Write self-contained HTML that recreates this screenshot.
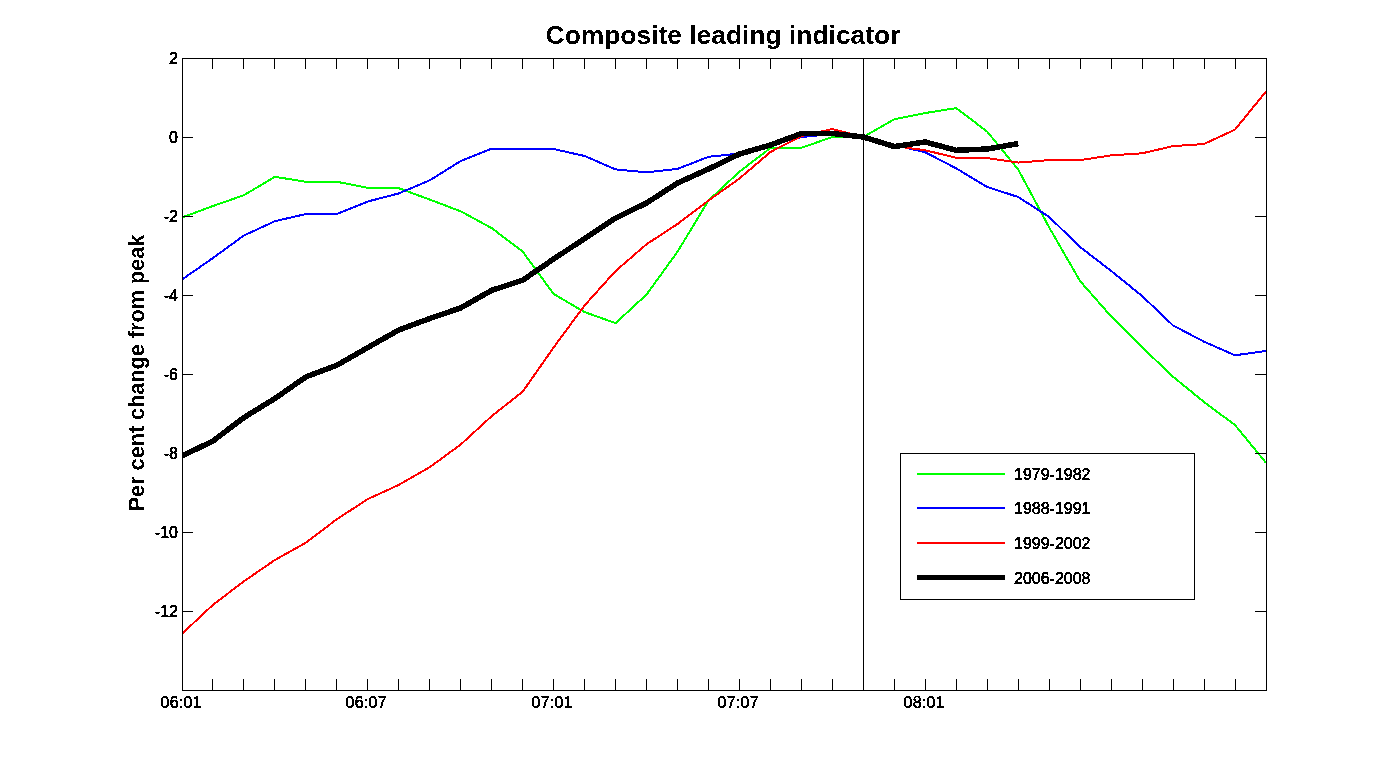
<!DOCTYPE html>
<html><head><meta charset="utf-8"><title>Composite leading indicator</title>
<style>
html,body{margin:0;padding:0;background:#fff;}
body{width:1399px;height:775px;overflow:hidden;}
svg{display:block;font-family:"Liberation Sans", sans-serif;}
</style></head><body>
<svg width="1399" height="775" viewBox="0 0 1399 775">
<rect x="0" y="0" width="1399" height="775" fill="#fff"/>

<defs><filter id="cr"><feComponentTransfer><feFuncA type="discrete" tableValues="0 1"/></feComponentTransfer></filter><clipPath id="ax"><rect x="182" y="58" width="1085" height="633"/></clipPath></defs>
<text x="723" y="44" text-anchor="middle" font-size="26.4" font-weight="bold" fill="#000" filter="url(#cr)">Composite leading indicator</text>
<text transform="translate(144,373) rotate(-90)" text-anchor="middle" font-size="21.65" font-weight="bold" fill="#000" filter="url(#cr)">Per cent change from peak</text>
<g clip-path="url(#ax)" fill="none" stroke-linejoin="round" stroke-linecap="butt" shape-rendering="crispEdges">
<polyline points="182.00,217.50 212.97,206.00 243.94,195.20 274.91,176.80 305.89,181.80 336.86,181.80 367.83,187.80 398.80,188.20 429.77,199.60 460.74,211.30 491.71,228.10 522.69,251.60 553.66,294.00 584.63,312.10 615.60,323.10 646.57,294.50 677.54,251.70 708.51,200.50 739.49,171.60 770.46,148.00 801.43,147.80 832.40,137.00 863.37,137.00 894.34,119.20 925.31,113.00 956.29,108.10 987.26,131.70 1018.23,169.50 1049.20,227.50 1080.17,281.20 1111.14,316.40 1142.11,347.20 1173.09,376.80 1204.06,402.00 1235.03,425.10 1266.00,462.80" stroke="#00ff00" stroke-width="2"/>
<polyline points="182.00,279.50 212.97,258.00 243.94,235.50 274.91,221.20 305.89,214.00 336.86,214.00 367.83,201.50 398.80,193.40 429.77,180.30 460.74,161.00 491.71,148.70 522.69,148.70 553.66,149.00 584.63,156.00 615.60,169.40 646.57,172.30 677.54,168.90 708.51,156.80 739.49,153.50 770.46,145.00 801.43,137.00 832.40,134.00 863.37,137.00 894.34,145.00 925.31,152.30 956.29,168.40 987.26,187.00 1018.23,197.00 1049.20,217.00 1080.17,247.10 1111.14,270.90 1142.11,296.00 1173.09,325.50 1204.06,341.70 1235.03,355.30 1266.00,350.90" stroke="#0000ff" stroke-width="2"/>
<polyline points="182.00,633.80 212.97,604.80 243.94,581.30 274.91,560.00 305.89,542.70 336.86,519.20 367.83,499.10 398.80,484.90 429.77,467.20 460.74,444.50 491.71,416.10 522.69,391.70 553.66,347.40 584.63,305.40 615.60,271.00 646.57,244.20 677.54,224.00 708.51,200.50 739.49,178.50 770.46,152.00 801.43,136.00 832.40,129.00 863.37,137.00 894.34,146.00 925.31,150.30 956.29,157.80 987.26,158.10 1018.23,162.60 1049.20,160.10 1080.17,160.10 1111.14,155.40 1142.11,153.30 1173.09,146.10 1204.06,144.00 1235.03,129.60 1266.00,91.50" stroke="#ff0000" stroke-width="2"/>
<polyline points="182.00,456.00 212.97,441.00 243.94,417.50 274.91,398.50 305.89,376.90 336.86,365.20 367.83,347.50 398.80,330.00 429.77,318.50 460.74,307.90 491.71,290.30 522.69,280.20 553.66,259.00 584.63,238.50 615.60,218.10 646.57,203.00 677.54,183.00 708.51,169.00 739.49,154.00 770.46,145.00 801.43,133.50 832.40,133.50 863.37,137.00 894.34,146.50 925.31,142.00 956.29,150.30 987.26,149.00 1018.23,143.60" stroke="#000" stroke-width="5.5"/>
</g>
<path d="M182.5,58V69M182.5,690V679M212.5,58V69M212.5,690V679M243.5,58V69M243.5,690V679M274.5,58V69M274.5,690V679M305.5,58V69M305.5,690V679M336.5,58V69M336.5,690V679M367.5,58V69M367.5,690V679M398.5,58V69M398.5,690V679M429.5,58V69M429.5,690V679M460.5,58V69M460.5,690V679M491.5,58V69M491.5,690V679M522.5,58V69M522.5,690V679M553.5,58V69M553.5,690V679M584.5,58V69M584.5,690V679M615.5,58V69M615.5,690V679M646.5,58V69M646.5,690V679M677.5,58V69M677.5,690V679M708.5,58V69M708.5,690V679M739.5,58V69M739.5,690V679M770.5,58V69M770.5,690V679M801.5,58V69M801.5,690V679M832.5,58V69M832.5,690V679M863.5,58V69M863.5,690V679M894.5,58V69M894.5,690V679M925.5,58V69M925.5,690V679M956.5,58V69M956.5,690V679M987.5,58V69M987.5,690V679M1018.5,58V69M1018.5,690V679M1049.5,58V69M1049.5,690V679M1080.5,58V69M1080.5,690V679M1111.5,58V69M1111.5,690V679M1142.5,58V69M1142.5,690V679M1173.5,58V69M1173.5,690V679M1204.5,58V69M1204.5,690V679M1235.5,58V69M1235.5,690V679M1266.5,58V69M1266.5,690V679M182,58.5H193M1267,58.5H1255M182,137.5H193M1267,137.5H1255M182,216.5H193M1267,216.5H1255M182,295.5H193M1267,295.5H1255M182,374.5H193M1267,374.5H1255M182,453.5H193M1267,453.5H1255M182,532.5H193M1267,532.5H1255M182,611.5H193M1267,611.5H1255M182,690.5H193M1267,690.5H1255" stroke="#000" stroke-width="1" fill="none" shape-rendering="crispEdges"/>
<rect x="182.5" y="58.5" width="1084" height="632" fill="none" stroke="#000" stroke-width="1" shape-rendering="crispEdges"/>
<line x1="863.5" y1="58" x2="863.5" y2="690" stroke="#000" stroke-width="1" shape-rendering="crispEdges"/>
<text x="181.2" y="708" text-anchor="middle" font-size="16" font-weight="normal" letter-spacing="0.25" fill="#000" stroke="#000" stroke-width="0.4" filter="url(#cr)">06:01</text>
<text x="366.2" y="708" text-anchor="middle" font-size="16" font-weight="normal" letter-spacing="0.25" fill="#000" stroke="#000" stroke-width="0.4" filter="url(#cr)">06:07</text>
<text x="552.2" y="708" text-anchor="middle" font-size="16" font-weight="normal" letter-spacing="0.25" fill="#000" stroke="#000" stroke-width="0.4" filter="url(#cr)">07:01</text>
<text x="738.2" y="708" text-anchor="middle" font-size="16" font-weight="normal" letter-spacing="0.25" fill="#000" stroke="#000" stroke-width="0.4" filter="url(#cr)">07:07</text>
<text x="924.2" y="708" text-anchor="middle" font-size="16" font-weight="normal" letter-spacing="0.25" fill="#000" stroke="#000" stroke-width="0.4" filter="url(#cr)">08:01</text>
<text x="178" y="64" text-anchor="end" font-size="16" font-weight="normal" fill="#000" stroke="#000" stroke-width="0.45" filter="url(#cr)">2</text>
<text x="178" y="143" text-anchor="end" font-size="16" font-weight="normal" fill="#000" stroke="#000" stroke-width="0.45" filter="url(#cr)">0</text>
<text x="178" y="222" text-anchor="end" font-size="16" font-weight="normal" fill="#000" stroke="#000" stroke-width="0.45" filter="url(#cr)">-2</text>
<text x="178" y="301" text-anchor="end" font-size="16" font-weight="normal" fill="#000" stroke="#000" stroke-width="0.45" filter="url(#cr)">-4</text>
<text x="178" y="380" text-anchor="end" font-size="16" font-weight="normal" fill="#000" stroke="#000" stroke-width="0.45" filter="url(#cr)">-6</text>
<text x="178" y="459" text-anchor="end" font-size="16" font-weight="normal" fill="#000" stroke="#000" stroke-width="0.45" filter="url(#cr)">-8</text>
<text x="178" y="538" text-anchor="end" font-size="16" font-weight="normal" fill="#000" stroke="#000" stroke-width="0.45" filter="url(#cr)">-10</text>
<text x="178" y="617" text-anchor="end" font-size="16" font-weight="normal" fill="#000" stroke="#000" stroke-width="0.45" filter="url(#cr)">-12</text>
<rect x="900.5" y="453.5" width="294" height="146" fill="#fff" stroke="#000" stroke-width="1" shape-rendering="crispEdges"/>
<line x1="917" y1="474" x2="1005" y2="474" stroke="#00ff00" stroke-width="2" shape-rendering="crispEdges"/>
<text x="1014" y="480" font-size="16" font-weight="normal" fill="#000" stroke="#000" stroke-width="0.45" filter="url(#cr)">1979-1982</text>
<line x1="917" y1="508" x2="1005" y2="508" stroke="#0000ff" stroke-width="2" shape-rendering="crispEdges"/>
<text x="1014" y="514" font-size="16" font-weight="normal" fill="#000" stroke="#000" stroke-width="0.45" filter="url(#cr)">1988-1991</text>
<line x1="917" y1="543" x2="1005" y2="543" stroke="#ff0000" stroke-width="2" shape-rendering="crispEdges"/>
<text x="1014" y="549" font-size="16" font-weight="normal" fill="#000" stroke="#000" stroke-width="0.45" filter="url(#cr)">1999-2002</text>
<line x1="917" y1="577.5" x2="1005" y2="577.5" stroke="#000" stroke-width="5" shape-rendering="crispEdges"/>
<text x="1014" y="583.5" font-size="16" font-weight="normal" fill="#000" stroke="#000" stroke-width="0.45" filter="url(#cr)">2006-2008</text>
</svg></body></html>
